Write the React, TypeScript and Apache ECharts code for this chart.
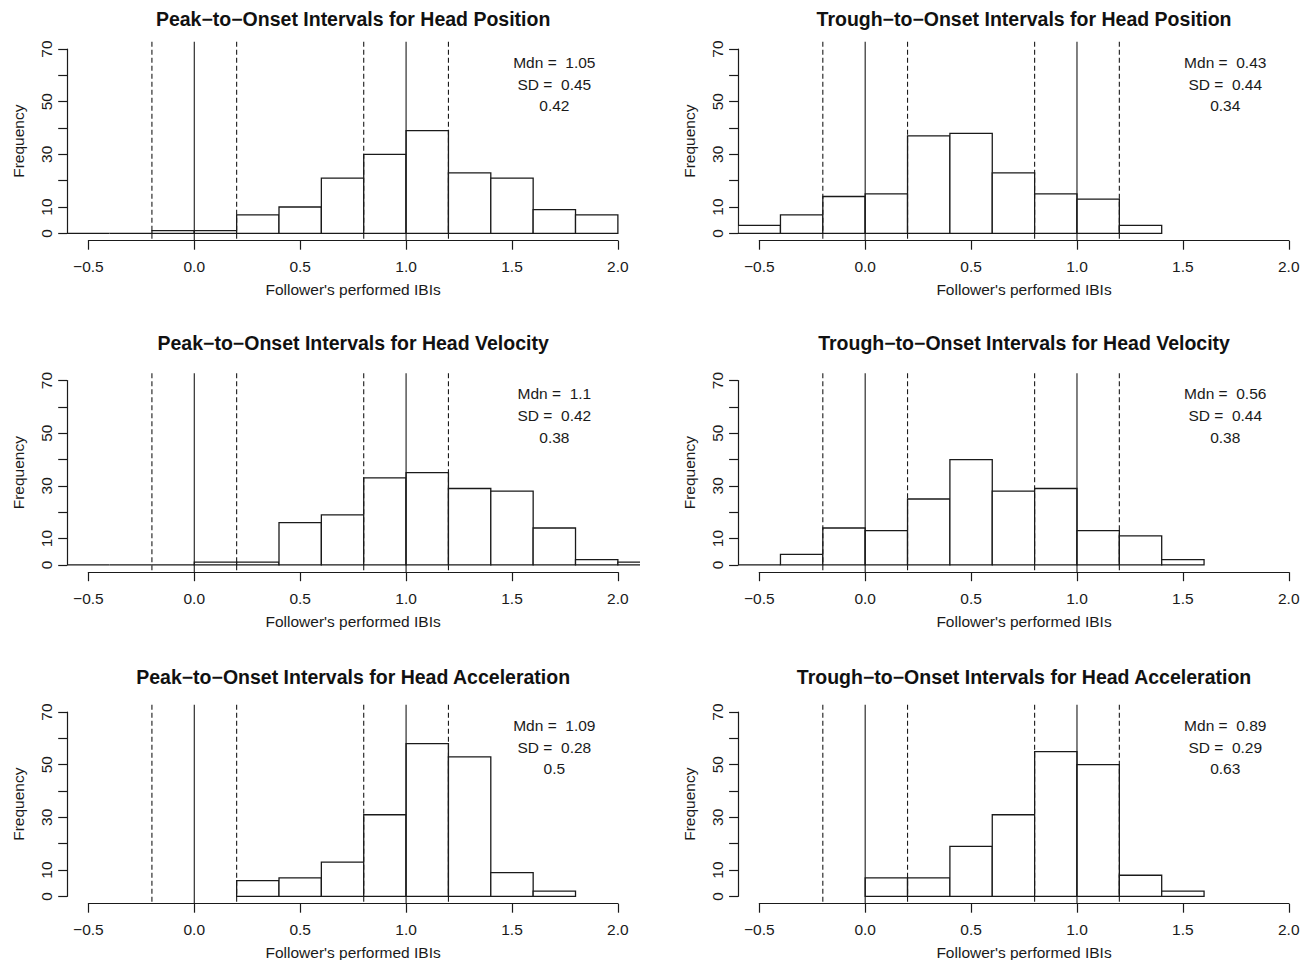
import React, { useEffect, useRef } from "react";
import * as echarts from "echarts";

const FONT = '"Liberation Sans", Arial, Helvetica, sans-serif';
const INK = "#1a1a1a";

// ---------- data ----------
const panelTitles = [
  "Peak−to−Onset Intervals for Head Position",
  "Trough−to−Onset Intervals for Head Position",
  "Peak−to−Onset Intervals for Head Velocity",
  "Trough−to−Onset Intervals for Head Velocity",
  "Peak−to−Onset Intervals for Head Acceleration",
  "Trough−to−Onset Intervals for Head Acceleration",
];
const binWidth = 0.2;
const binStarts = [-0.6, -0.6, -0.6, -0.6, 0.2, 0.0];
const peakPositionCounts = [0, 0, 1, 1, 7, 10, 21, 30, 39, 23, 21, 9, 7];
const troughPositionCounts = [3, 7, 14, 15, 37, 38, 23, 15, 13, 3];
const peakVelocityCounts = [0, 0, 0, 1, 1, 16, 19, 33, 35, 29, 28, 14, 2, 1];
const troughVelocityCounts = [0, 4, 14, 13, 25, 40, 28, 29, 13, 11, 2];
const peakAccelerationCounts = [6, 7, 13, 31, 58, 53, 9, 2];
const troughAccelerationCounts = [7, 7, 19, 31, 55, 50, 8, 2];
const panelCounts = [
  peakPositionCounts,
  troughPositionCounts,
  peakVelocityCounts,
  troughVelocityCounts,
  peakAccelerationCounts,
  troughAccelerationCounts,
];
const medians = ["1.05", "0.43", "1.1", "0.56", "1.09", "0.89"];
const sds = ["0.45", "0.44", "0.42", "0.44", "0.28", "0.29"];
const thirdValues = ["0.42", "0.34", "0.38", "0.38", "0.5", "0.63"];
const solidLines = [0, 1.0];
const dashedLines = [-0.2, 0.2, 0.8, 1.2];
const yLabelValues = [0, 10, 30, 50, 70];
const xAxisTitle = "Follower's performed IBIs";
const yAxisTitle = "Frequency";

// ---------- layout ----------
const COL_LEFT = [67.2, 738.1];
const ROW_TOP = [41.7, 373.2, 704.7];
const TITLE_Y = [19, 343, 677];
const UNIT_X = 211.8;
const X_MIN = -0.6;
const X_MAX = 2.1;
const Y_MIN = -2.8;
const Y_MAX = 72.8;
const PLOT_W = (X_MAX - X_MIN) * UNIT_X;
const PLOT_H = 199;
const Y_UNIT = PLOT_H / (Y_MAX - Y_MIN);
const ANNOT_X = 1.7;
const ANNOT_Y = [65, 56.6, 48.4];
const FS = 15.5;

function buildOption() {
  const grid: any[] = [];
  const xAxis: any[] = [];
  const yAxis: any[] = [];
  const series: any[] = [];
  const graphic: any[] = [];

  panelTitles.forEach((title, p) => {
    const r = Math.floor(p / 2);
    const c = p % 2;
    const left = COL_LEFT[c];
    const top = ROW_TOP[r];
    const gA = grid.length;
    grid.push({ left, top, width: PLOT_W, height: PLOT_H, containLabel: false, outerBoundsMode: "none" });
    grid.push({
      left: left + (-0.5 - X_MIN) * UNIT_X,
      top: top + PLOT_H - 1,
      width: 2.5 * UNIT_X,
      height: 1,
      containLabel: false,
      outerBoundsMode: "none",
    });
    grid.push({
      left,
      top: top + (Y_MAX - 70) * Y_UNIT,
      width: 10,
      height: 70 * Y_UNIT,
      containLabel: false,
      outerBoundsMode: "none",
    });

    // plot coordinate system
    xAxis.push({ gridIndex: gA, type: "value", min: X_MIN, max: X_MAX, show: false });
    yAxis.push({ gridIndex: gA, type: "value", min: Y_MIN, max: Y_MAX, show: false });
    // x axis display
    xAxis.push({
      gridIndex: gA + 1,
      type: "value",
      min: -0.5,
      max: 2.0,
      interval: 0.5,
      position: "bottom",
      axisLine: { show: true, onZero: false, lineStyle: { color: INK, width: 1.2 } },
      axisTick: { show: true, length: 9, lineStyle: { color: INK, width: 1.2 } },
      axisLabel: {
        show: true,
        margin: 18,
        color: INK,
        fontSize: FS,
        fontFamily: FONT,
        formatter: (v: number) => (v < -1e-9 ? "−" : "") + Math.abs(v).toFixed(1),
      },
      splitLine: { show: false },
      name: xAxisTitle,
      nameLocation: "middle",
      nameGap: 41,
      nameTextStyle: { color: INK, fontSize: FS, fontFamily: FONT },
    });
    yAxis.push({ gridIndex: gA + 1, type: "value", min: 0, max: 1, show: false });
    // y axis display
    xAxis.push({ gridIndex: gA + 2, type: "value", min: 0, max: 1, show: false });
    yAxis.push({
      gridIndex: gA + 2,
      type: "value",
      min: 0,
      max: 70,
      interval: 10,
      position: "left",
      axisLine: { show: true, onZero: false, lineStyle: { color: INK, width: 1.2 } },
      axisTick: { show: true, length: 9, lineStyle: { color: INK, width: 1.2 } },
      axisLabel: {
        show: true,
        rotate: 90,
        margin: 13,
        color: INK,
        fontSize: FS,
        fontFamily: FONT,
        formatter: (v: number) => (yLabelValues.indexOf(Math.round(v)) >= 0 ? String(Math.round(v)) : ""),
      },
      splitLine: { show: false },
      name: yAxisTitle,
      nameLocation: "middle",
      nameRotate: 90,
      nameGap: 41,
      nameTextStyle: { color: INK, fontSize: FS, fontFamily: FONT },
    });

    const counts = panelCounts[p];
    const bins = counts.map((n, i) => {
      const x0 = Math.round((binStarts[p] + i * binWidth) * 100) / 100;
      const x1 = Math.round((x0 + binWidth) * 100) / 100;
      return [x0, x1, n];
    });
    series.push({
      type: "custom",
      xAxisIndex: gA,
      yAxisIndex: gA,
      clip: true,
      z: 2,
      silent: true,
      encode: { x: [0, 1], y: 2 },
      data: bins,
      renderItem: (params: any, api: any) => {
        const a = api.coord([api.value(0), api.value(2)]);
        const b = api.coord([api.value(1), 0]);
        return {
          type: "rect",
          shape: { x: a[0], y: a[1], width: b[0] - a[0], height: b[1] - a[1] },
          style: { fill: "#ffffff", stroke: INK, lineWidth: 1.3 },
        };
      },
    });

    const refLines = [
      ...dashedLines.map((x) => [x, 1]),
      ...solidLines.map((x) => [x, 0]),
    ];
    series.push({
      type: "custom",
      xAxisIndex: gA,
      yAxisIndex: gA,
      z: 3,
      silent: true,
      encode: { x: 0 },
      data: refLines,
      renderItem: (params: any, api: any) => {
        const x = api.coord([api.value(0), 0])[0];
        const cs = params.coordSys;
        const dashed = api.value(1) === 1;
        return {
          type: "line",
          shape: { x1: x, y1: cs.y, x2: x, y2: cs.y + cs.height },
          style: { stroke: INK, lineWidth: 1.1, lineDash: dashed ? [5, 3] : null },
        };
      },
    });

    const annotTexts = ["Mdn =  " + medians[p], "SD =  " + sds[p], thirdValues[p]];
    series.push({
      type: "custom",
      xAxisIndex: gA,
      yAxisIndex: gA,
      z: 4,
      silent: true,
      encode: { x: 0, y: 1 },
      data: ANNOT_Y.map((y) => [ANNOT_X, y]),
      renderItem: (params: any, api: any) => {
        const pt = api.coord([api.value(0), api.value(1)]);
        return {
          type: "text",
          x: pt[0],
          y: pt[1],
          style: {
            text: annotTexts[params.dataIndex],
            fill: INK,
            fontSize: FS,
            fontFamily: FONT,
            align: "center",
            verticalAlign: "middle",
          },
        };
      },
    });

    graphic.push({
      type: "text",
      x: left + PLOT_W / 2,
      y: TITLE_Y[r],
      style: {
        text: title,
        fill: "#111",
        font: `bold 19.5px ${FONT}`,
        textAlign: "center",
        textVerticalAlign: "middle",
      },
    });
  });

  return {
    animation: false,
    backgroundColor: "#ffffff",
    grid,
    xAxis,
    yAxis,
    series,
    graphic,
  };
}

export default function App() {
  const ref = useRef<HTMLDivElement>(null);
  useEffect(() => {
    if (!ref.current) return;
    const chart = echarts.init(ref.current, null, { renderer: "svg" });
    chart.setOption(buildOption() as any);
    return () => chart.dispose();
  }, []);
  return (
    <div
      ref={ref}
      style={{ position: "absolute", left: 0, top: 0, width: 1311, height: 960, background: "#fff" }}
    />
  );
}
